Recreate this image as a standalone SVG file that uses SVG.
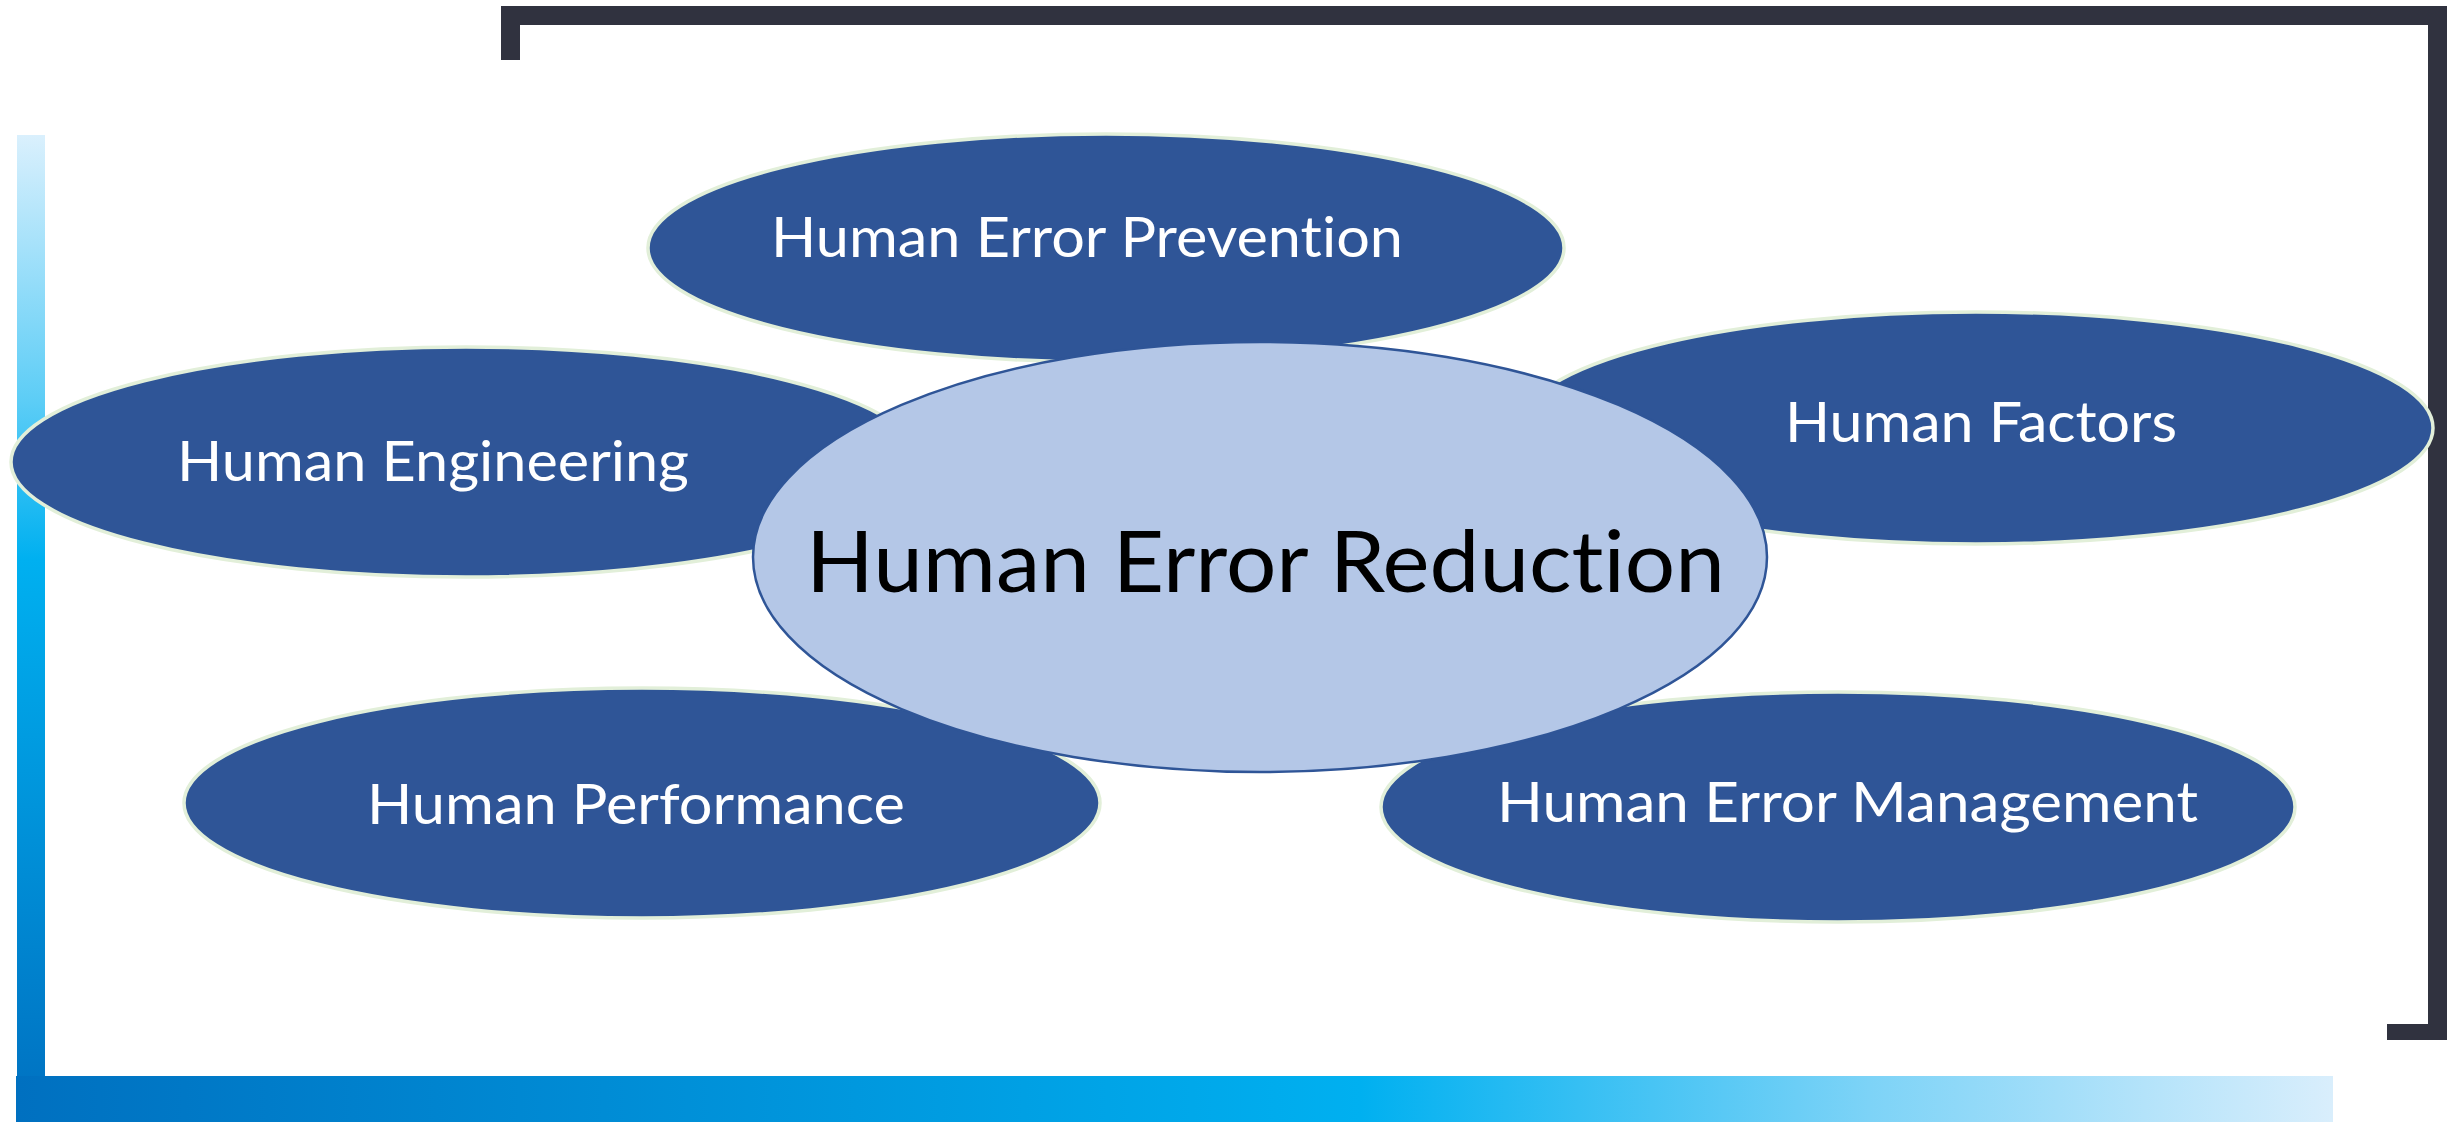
<svg xmlns="http://www.w3.org/2000/svg" width="2450" height="1122" viewBox="0 0 2450 1122">
  <style>
    text { font-variant-ligatures: none; font-feature-settings: "liga" 0, "clig" 0; }
    .sat { fill: #2f5597; stroke: #e2efd9; stroke-width: 3.5; }
    .satText { fill: #ffffff; font-family: Lato, "Open Sans", "Liberation Sans", sans-serif; font-size: 56px; }
    .core { fill: #b4c7e7; stroke: #2f5597; stroke-width: 2.5; }
    .coreText { fill: #000000; font-family: Lato, "Open Sans", "Liberation Sans", sans-serif; font-size: 85px; }
  </style>
  <defs>
    <linearGradient id="gV" x1="0" y1="135" x2="0" y2="1122" gradientUnits="userSpaceOnUse">
      <stop offset="0" stop-color="#daf0fd"/>
      <stop offset="0.27" stop-color="#5ccdf6"/>
      <stop offset="0.43" stop-color="#00b0f0"/>
      <stop offset="1" stop-color="#0070c0"/>
    </linearGradient>
    <linearGradient id="gH" x1="16" y1="0" x2="2333" y2="0" gradientUnits="userSpaceOnUse">
      <stop offset="0" stop-color="#0070c0"/>
      <stop offset="0.58" stop-color="#00b0f0"/>
      <stop offset="0.8" stop-color="#7dd3f7"/>
      <stop offset="1" stop-color="#d9eefc"/>
    </linearGradient>
  </defs>
  <rect width="2450" height="1122" fill="#ffffff"/>

  <!-- frame decorations -->
  <g id="frame">
    <path d="M501,6 H2447 V1040 H2387 V1024 H2428 V25 H520 V60 H501 Z" fill="#30323f"/>
    <rect x="17" y="135" width="28" height="987" fill="url(#gV)"/>
    <rect x="16" y="1076" width="2317" height="46" fill="url(#gH)"/>
  </g>

  <g id="connectors"></g>

  <g id="node-prevention">
    <ellipse class="sat" cx="1106" cy="248" rx="458" ry="114"/>
    <text class="satText" x="771" y="257" textLength="632" lengthAdjust="spacingAndGlyphs">Human Error Prevention</text>
  </g>
  <g id="node-factors">
    <ellipse class="sat" cx="1976" cy="428" rx="457" ry="116"/>
    <text class="satText" x="1785" y="442" textLength="392" lengthAdjust="spacingAndGlyphs">Human Factors</text>
  </g>
  <g id="node-engineering">
    <ellipse class="sat" cx="466" cy="462" rx="455" ry="115"/>
    <text class="satText" x="177" y="481" textLength="512" lengthAdjust="spacingAndGlyphs">Human Engineering</text>
  </g>
  <g id="node-performance">
    <ellipse class="sat" cx="642" cy="803" rx="458" ry="115"/>
    <text class="satText" x="367" y="824" textLength="538" lengthAdjust="spacingAndGlyphs">Human Performance</text>
  </g>
  <g id="node-management">
    <ellipse class="sat" cx="1838" cy="807" rx="457" ry="115"/>
    <text class="satText" x="1497" y="822" textLength="701" lengthAdjust="spacingAndGlyphs">Human Error Management</text>
  </g>
  <g id="node-reduction">
    <ellipse class="core" cx="1260" cy="557" rx="507" ry="215"/>
    <text class="coreText" x="806" y="592" textLength="919" lengthAdjust="spacingAndGlyphs">Human Error Reduction</text>
  </g>
</svg>
